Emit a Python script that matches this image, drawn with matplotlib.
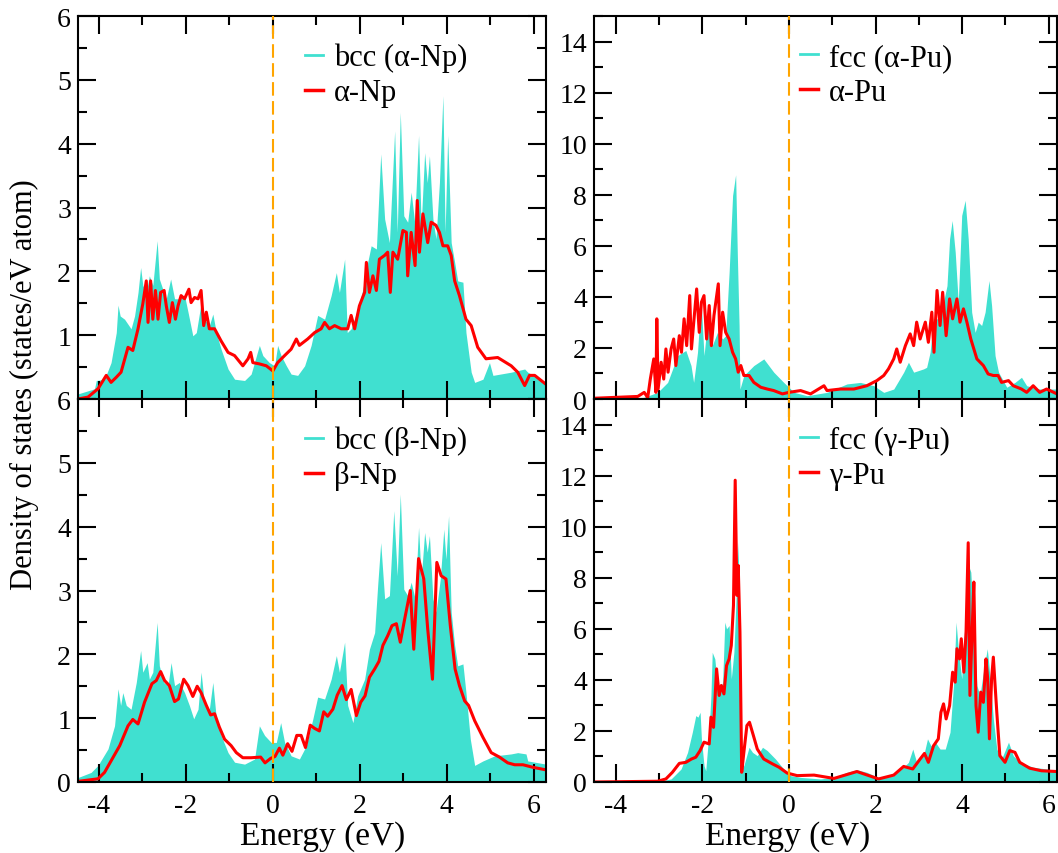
import numpy as np
import matplotlib
matplotlib.use("Agg")
import matplotlib.pyplot as plt
from matplotlib.lines import Line2D
from matplotlib.ticker import MultipleLocator

plt.rcParams['font.family'] = ['Liberation Serif', 'DejaVu Serif']
plt.rcParams['axes.unicode_minus'] = False

# ---- data: energy (eV) and DOS (states/eV atom) ----
# top left: bcc (alpha-Np) fill and alpha-Np line
e_bcc_a = [-4.48, -4.10, -4.06, -3.87, -3.72, -3.60, -3.56, -3.51, -3.41, -3.26, -3.18, -3.10,
           -3.04, -2.99, -2.91, -2.84, -2.76, -2.66, -2.61, -2.53, -2.45, -2.35, -2.26, -2.15,
           -2.03, -1.95, -1.84, -1.76, -1.66, -1.57, -1.46, -1.38, -1.30, -1.19, -1.03, -0.88,
           -0.65, -0.50, -0.31, -0.23, -0.08, 0.04, 0.11, 0.19, 0.31, 0.42, 0.57, 0.73, 0.88,
           1.03, 1.19, 1.34, 1.46, 1.53, 1.65, 1.71, 1.80, 1.95, 2.07, 2.18, 2.26, 2.38, 2.48,
           2.57, 2.68, 2.80, 2.86, 2.93, 3.01, 3.10, 3.18, 3.26, 3.35, 3.41, 3.49, 3.55, 3.60,
           3.68, 3.75, 3.83, 3.91, 3.96, 4.02, 4.10, 4.18, 4.25, 4.37, 4.44, 4.56, 4.64, 4.83,
           4.98, 5.06, 5.48, 5.79, 5.86, 6.28]
d_bcc_a = [0.08, 0.16, 0.29, 0.31, 0.57, 1.04, 1.47, 1.30, 1.25, 1.10, 1.30, 1.67,
           2.06, 1.78, 1.67, 1.93, 1.78, 2.48, 1.88, 1.72, 1.57, 1.88, 1.57, 1.57,
           1.62, 1.36, 0.99, 1.04, 1.46, 1.25, 1.15, 1.33, 1.04, 0.78, 0.47, 0.31,
           0.29, 0.39, 0.84, 0.68, 0.57, 0.52, 0.84, 0.68, 0.52, 0.39, 0.37, 0.52, 0.84,
           1.31, 1.25, 1.62, 1.98, 1.67, 2.19, 1.04, 1.10, 1.41, 1.72, 2.14, 2.40, 2.35, 3.84,
           2.82, 2.45, 4.20, 2.61, 4.49, 2.87, 2.77, 3.24, 2.77, 4.13, 2.72, 3.86, 3.39, 3.81,
           2.82, 2.51, 3.39, 4.75, 2.61, 4.13, 2.45, 2.14, 1.85, 1.83, 1.04, 0.42, 0.26, 0.31,
           0.57, 0.37, 0.42, 0.47, 0.42, 0.26]
e_np_a = [-4.48, -4.25, -4.02, -3.83, -3.72, -3.60, -3.49, -3.33, -3.22, -3.10, -2.99, -2.91,
          -2.87, -2.81, -2.76, -2.70, -2.64, -2.58, -2.50, -2.45, -2.38, -2.31, -2.24, -2.18,
          -2.11, -2.03, -1.93, -1.88, -1.80, -1.72, -1.65, -1.59, -1.53, -1.46, -1.34, -1.19,
          -1.03, -0.88, -0.69, -0.57, -0.51, -0.46, -0.31, -0.15, 0.00, 0.11, 0.27, 0.42, 0.54,
          0.61, 0.80, 0.96, 1.11, 1.19, 1.30, 1.42, 1.57, 1.72, 1.80, 1.88, 1.99, 2.11, 2.15,
          2.22, 2.30, 2.38, 2.45, 2.57, 2.64, 2.70, 2.76, 2.87, 2.99, 3.07, 3.10, 3.18, 3.27,
          3.32, 3.37, 3.45, 3.56, 3.64, 3.75, 3.83, 3.91, 4.02, 4.10, 4.18, 4.29, 4.44, 4.56,
          4.71, 4.90, 5.17, 5.48, 5.63, 5.79, 5.90, 6.02, 6.28]
d_np_a = [0.00, 0.03, 0.16, 0.37, 0.26, 0.34, 0.42, 0.81, 0.76, 1.10, 1.49, 1.85,
          1.20, 1.85, 1.25, 1.70, 1.25, 1.67, 1.70, 1.46, 1.20, 1.51, 1.25, 1.46,
          1.62, 1.57, 1.72, 1.51, 1.59, 1.57, 1.70, 1.15, 1.36, 1.10, 1.10, 0.91,
          0.73, 0.68, 0.52, 0.63, 0.73, 0.57, 0.55, 0.52, 0.44, 0.57, 0.68, 0.78, 0.94,
          0.84, 0.94, 1.04, 1.10, 1.20, 1.10, 1.15, 1.10, 1.10, 1.31, 1.10, 1.46, 1.67, 2.14,
          1.67, 1.93, 1.70, 2.19, 2.25, 2.30, 1.67, 2.30, 2.19, 2.64, 2.61, 1.93, 2.61, 2.09,
          3.11, 2.30, 2.90, 2.45, 2.77, 2.72, 2.61, 2.40, 2.40, 2.25, 1.85, 1.62, 1.25, 1.15,
          0.81, 0.63, 0.65, 0.52, 0.42, 0.21, 0.37, 0.37, 0.23]

# bottom left: bcc (beta-Np) fill and beta-Np line
e_bcc_b = [-4.48, -4.18, -4.02, -3.79, -3.64, -3.56, -3.50, -3.45, -3.37, -3.26, -3.14, -3.04,
           -2.99, -2.89, -2.84, -2.76, -2.66, -2.61, -2.51, -2.41, -2.34, -2.26, -2.15, -2.03,
           -1.92, -1.82, -1.72, -1.65, -1.57, -1.46, -1.38, -1.30, -1.19, -1.03, -0.88, -0.65,
           -0.42, -0.31, -0.19, -0.04, 0.08, 0.18, 0.27, 0.42, 0.61, 0.77, 0.92, 1.03, 1.19,
           1.34, 1.46, 1.53, 1.65, 1.72, 1.84, 1.95, 2.11, 2.22, 2.34, 2.41, 2.48, 2.57, 2.68,
           2.78, 2.86, 2.93, 3.01, 3.10, 3.18, 3.27, 3.35, 3.41, 3.49, 3.55, 3.60, 3.68, 3.75,
           3.85, 3.93, 3.98, 4.04, 4.10, 4.18, 4.25, 4.37, 4.44, 4.54, 4.64, 4.83, 5.10, 5.48,
           5.63, 5.82, 5.86, 6.28]
d_bcc_b = [0.07, 0.15, 0.26, 0.52, 0.88, 1.46, 1.20, 1.40, 1.20, 1.14, 1.56, 2.06,
           1.72, 1.87, 1.61, 1.72, 2.50, 1.82, 1.56, 1.51, 1.87, 1.51, 1.56, 1.40,
           1.20, 0.99, 1.14, 1.72, 1.20, 1.14, 1.56, 0.99, 0.73, 0.46, 0.31, 0.28,
           0.36, 0.88, 0.73, 0.62, 0.62, 0.93, 0.62, 0.41, 0.36, 0.57, 0.99, 1.33, 1.30,
           1.61, 1.98, 1.72, 2.19, 1.20, 0.93, 1.35, 1.61, 2.08, 2.34, 3.08, 3.75, 2.87, 2.92,
           4.25, 3.23, 4.51, 3.02, 2.92, 3.13, 2.87, 3.99, 3.18, 3.91, 3.60, 3.86, 2.87, 2.66,
           3.18, 3.96, 3.49, 4.17, 2.66, 2.14, 1.82, 1.85, 1.40, 0.67, 0.26, 0.33, 0.41, 0.44,
           0.46, 0.44, 0.33, 0.28]
e_np_b = [-4.48, -4.02, -3.87, -3.72, -3.52, -3.33, -3.22, -3.10, -2.95, -2.78, -2.68, -2.58,
          -2.49, -2.38, -2.26, -2.17, -2.05, -1.95, -1.84, -1.74, -1.65, -1.53, -1.43, -1.34,
          -1.23, -1.11, -0.96, -0.84, -0.69, -0.50, -0.28, -0.18, -0.05, 0.05, 0.15, 0.23,
          0.34, 0.44, 0.55, 0.65, 0.75, 0.86, 0.96, 1.07, 1.17, 1.26, 1.38, 1.48, 1.59, 1.69,
          1.80, 1.92, 2.02, 2.12, 2.22, 2.34, 2.44, 2.53, 2.64, 2.74, 2.84, 2.93, 3.03, 3.16,
          3.24, 3.35, 3.47, 3.56, 3.67, 3.77, 3.87, 3.98, 4.08, 4.19, 4.29, 4.41, 4.50, 4.64,
          4.83, 5.02, 5.21, 5.40, 5.56, 5.75, 5.98, 6.28]
d_np_b = [0.01, 0.05, 0.15, 0.33, 0.57, 0.88, 0.98, 0.91, 1.25, 1.54, 1.59, 1.73,
          1.59, 1.51, 1.26, 1.30, 1.61, 1.51, 1.34, 1.50, 1.40, 1.20, 1.05, 1.07,
          0.86, 0.67, 0.57, 0.46, 0.38, 0.38, 0.39, 0.30, 0.37, 0.40, 0.53, 0.42,
          0.60, 0.48, 0.73, 0.73, 0.54, 0.89, 0.84, 0.80, 1.10, 1.03, 1.14, 1.36, 1.51, 1.29,
          1.45, 1.04, 1.25, 1.35, 1.64, 1.77, 1.89, 2.14, 2.29, 2.45, 2.48, 2.19, 2.55, 3.00,
          2.08, 3.50, 3.18, 2.40, 1.61, 3.44, 3.23, 3.18, 2.45, 1.77, 1.51, 1.27, 1.20, 0.96,
          0.70, 0.46, 0.39, 0.30, 0.27, 0.27, 0.23, 0.19]

# top right: fcc (alpha-Pu) fill and alpha-Pu line
e_fcc_a = [-4.49, -3.49, -3.34, -3.03, -2.80, -2.57, -2.38, -2.26, -2.20, -2.11, -2.03, -1.96,
           -1.84, -1.77, -1.65, -1.53, -1.46, -1.38, -1.30, -1.23, -1.19, -1.15, -1.13, -1.04,
           -0.81, -0.58, -0.35, -0.12, 0.12, 0.42, 0.88, 1.34, 1.65, 1.96, 2.19, 2.42, 2.65,
           2.76, 2.88, 3.11, 3.18, 3.26, 3.34, 3.45, 3.57, 3.65, 3.71, 3.77, 3.84, 3.91, 3.99,
           4.07, 4.14, 4.22, 4.30, 4.37, 4.45, 4.53, 4.62, 4.68, 4.76, 4.84, 5.03, 5.22, 5.37,
           5.49, 5.79, 6.19]
d_fcc_a = [0.02, 0.02, 0.07, 0.26, 0.65, 1.70, 1.90, 1.31, 0.65, 1.83, 3.92, 1.70,
           3.66, 2.09, 2.61, 2.35, 2.48, 4.97, 7.97, 8.78, 5.62, 2.88, 0.39, 0.92,
           1.31, 1.57, 1.05, 0.65, 0.26, 0.13, 0.26, 0.59, 0.65, 0.52, 0.26, 0.39, 1.05,
           1.44, 1.05, 1.18, 1.24, 1.83, 3.14, 3.14, 3.79, 4.44, 6.27, 6.99, 5.75, 3.79, 7.19,
           7.78, 6.27, 3.40, 2.61, 3.01, 2.88, 3.40, 4.64, 3.66, 1.70, 1.05, 0.46, 0.65, 0.85,
           0.52, 0.39, 0.39]
e_pu_a = [-4.49, -3.49, -3.34, -3.26, -3.20, -3.12, -3.07, -3.05, -3.02, -2.95, -2.89, -2.84,
          -2.79, -2.72, -2.66, -2.61, -2.53, -2.48, -2.42, -2.36, -2.29, -2.25, -2.19, -2.13,
          -2.07, -2.02, -1.96, -1.90, -1.84, -1.79, -1.73, -1.63, -1.59, -1.53, -1.46, -1.38,
          -1.30, -1.23, -1.17, -1.11, -1.04, -0.92, -0.81, -0.65, -0.50, -0.35, -0.15, 0.00,
          0.27, 0.50, 0.81, 0.88, 1.19, 1.50, 1.80, 2.03, 2.19, 2.30, 2.42, 2.49, 2.57, 2.69,
          2.80, 2.88, 2.95, 3.03, 3.15, 3.22, 3.30, 3.35, 3.42, 3.49, 3.55, 3.63, 3.71, 3.78,
          3.88, 3.95, 4.03, 4.11, 4.20, 4.34, 4.49, 4.60, 4.72, 4.83, 4.91, 5.07, 5.18, 5.37,
          5.49, 5.64, 5.79, 5.95, 6.19]
d_pu_a = [0.03, 0.10, 0.26, 0.05, 0.78, 1.57, 0.26, 3.14, 0.39, 1.44, 0.78, 1.96,
          1.05, 1.96, 2.35, 1.31, 2.48, 1.83, 3.14, 2.09, 4.05, 1.96, 3.14, 4.31,
          2.61, 3.79, 4.05, 2.35, 3.66, 2.09, 3.27, 4.51, 2.09, 3.40, 2.61, 2.35,
          1.83, 1.57, 1.05, 1.31, 0.92, 0.92, 0.65, 0.46, 0.39, 0.33, 0.20, 0.26,
          0.33, 0.20, 0.52, 0.33, 0.39, 0.39, 0.52, 0.72, 0.92, 1.18, 1.57, 1.96, 1.44, 2.09,
          2.55, 2.09, 3.01, 2.35, 3.01, 2.22, 3.40, 1.83, 4.25, 2.88, 4.18, 2.48, 3.92, 3.14,
          3.92, 3.01, 3.53, 3.01, 2.35, 1.57, 1.31, 0.98, 0.92, 0.92, 0.65, 0.72, 0.52, 0.39,
          0.26, 0.52, 0.26, 0.39, 0.20]

# bottom right: fcc (gamma-Pu) fill and gamma-Pu line
e_fcc_g = [-4.49, -3.03, -2.72, -2.49, -2.34, -2.23, -2.15, -2.10, -2.05, -2.02, -1.96, -1.92,
           -1.84, -1.80, -1.77, -1.71, -1.65, -1.59, -1.53, -1.48, -1.44, -1.38, -1.33, -1.27,
           -1.22, -1.17, -1.13, -1.09, -1.04, -0.92, -0.84, -0.73, -0.61, -0.50, -0.31, -0.12,
           0.04, 0.27, 0.73, 1.04, 1.34, 1.57, 1.80, 2.11, 2.42, 2.65, 2.76, 2.86, 2.95, 3.11,
           3.20, 3.28, 3.38, 3.49, 3.61, 3.72, 3.80, 3.86, 3.91, 3.99, 4.07, 4.12, 4.20, 4.26,
           4.34, 4.41, 4.49, 4.58, 4.64, 4.72, 4.80, 4.91, 5.07, 5.18, 5.33, 5.64, 5.95, 6.19]
d_fcc_g = [0.03, 0.03, 0.12, 0.51, 1.16, 1.95, 2.60, 2.54, 2.73, 1.69, 0.64, 0.44,
           2.08, 3.39, 5.08, 4.82, 3.78, 3.52, 3.91, 6.26, 6.00, 6.13, 4.04, 5.08,
           7.18, 9.40, 3.78, 0.51, 0.64, 1.36, 1.16, 1.03, 1.36, 1.23, 0.90, 0.51,
           0.25, 0.18, 0.12, 0.18, 0.38, 0.48, 0.38, 0.14, 0.25, 0.58, 0.77, 1.29, 0.77, 1.03,
           1.69, 1.42, 1.56, 1.29, 1.29, 1.95, 3.78, 6.26, 5.22, 4.04, 6.39, 8.61, 8.22, 6.39,
           3.78, 3.39, 4.30, 5.22, 4.17, 2.47, 1.29, 0.90, 1.56, 1.03, 0.77, 0.58, 0.51, 0.44]
e_pu_g = [-4.49, -3.03, -2.84, -2.69, -2.53, -2.38, -2.25, -2.15, -2.05, -1.96, -1.84, -1.80,
          -1.74, -1.67, -1.61, -1.56, -1.50, -1.44, -1.38, -1.33, -1.28, -1.24, -1.20, -1.17,
          -1.13, -1.09, -1.04, -0.97, -0.91, -0.82, -0.73, -0.58, -0.38, -0.23, -0.04, 0.19,
          0.58, 1.04, 1.57, 2.07, 2.42, 2.65, 2.86, 3.03, 3.13, 3.22, 3.34, 3.45, 3.51, 3.57,
          3.63, 3.71, 3.78, 3.84, 3.88, 3.94, 3.98, 4.04, 4.09, 4.14, 4.18, 4.24, 4.27, 4.32,
          4.37, 4.43, 4.49, 4.55, 4.59, 4.63, 4.68, 4.72, 4.80, 4.87, 4.99, 5.10, 5.22, 5.33,
          5.56, 5.83, 6.19]
d_pu_g = [0.00, 0.03, 0.12, 0.38, 0.73, 0.77, 0.90, 0.97, 1.23, 1.56, 1.49, 2.54,
          2.14, 4.43, 3.39, 3.78, 3.45, 4.56, 4.82, 5.35, 6.92, 11.82, 7.31, 8.48,
          5.87, 0.38, 1.16, 2.21, 2.34, 1.82, 1.29, 0.90, 0.71, 0.58, 0.35, 0.25,
          0.27, 0.14, 0.41, 0.12, 0.27, 0.61, 0.51, 0.90, 1.12, 0.77, 1.42, 1.69, 2.73, 3.06,
          2.47, 2.99, 4.30, 3.91, 5.22, 4.82, 5.61, 4.30, 5.87, 9.37, 3.39, 6.39, 7.83, 2.99,
          1.95, 3.52, 3.12, 4.82, 4.04, 1.69, 4.04, 4.89, 2.73, 1.03, 0.77, 1.23, 1.16, 0.77,
          0.54, 0.44, 0.41]

# (fill E, fill D, line E, line D, fill label, line label), in panel order
panels = [
    (e_bcc_a, d_bcc_a, e_np_a, d_np_a, 'bcc (α-Np)', 'α-Np'),
    (e_fcc_a, d_fcc_a, e_pu_a, d_pu_a, 'fcc (α-Pu)', 'α-Pu'),
    (e_bcc_b, d_bcc_b, e_np_b, d_np_b, 'bcc (β-Np)', 'β-Np'),
    (e_fcc_g, d_fcc_g, e_pu_g, d_pu_g, 'fcc (γ-Pu)', 'γ-Pu'),
]

W, H = 1058, 854
fig = plt.figure(figsize=(W / 100, H / 100), dpi=100)

# axes boxes in pixels: left, top, right, bottom
boxes = [(78, 17, 546, 400), (594, 17, 1057, 400),
         (78, 400, 546, 783), (594, 400, 1057, 783)]
xlims = [(-4.48, 6.28), (-4.5, 6.19), (-4.48, 6.28), (-4.5, 6.19)]
leg_x = [0.485, 0.445, 0.485, 0.445]

turq = '#40E0D0'
for k, (ef, df, el, dl, lab_f, lab_l) in enumerate(panels):
    l, t, r, b = boxes[k]
    ax = fig.add_axes([l / W, 1 - b / H, (r - l) / W, (b - t) / H])
    ax.fill_between(ef, df, 0, color=turq, lw=0, zorder=1)
    ax.plot(el, dl, color='red', lw=2.2, zorder=2)
    ax.axvline(0, color='orange', lw=1.5, dashes=(6.5, 2.6), zorder=3)
    ax.set_xlim(*xlims[k])
    ax.xaxis.set_major_locator(MultipleLocator(2))
    ax.xaxis.set_minor_locator(MultipleLocator(1))
    if k % 2 == 0:
        ax.set_ylim(0, 6)
        ax.yaxis.set_major_locator(MultipleLocator(1))
        ax.yaxis.set_minor_locator(MultipleLocator(0.5))
    else:
        ax.set_ylim(0, 15)
        ax.set_yticks(np.arange(0, 15, 2))
        ax.yaxis.set_minor_locator(MultipleLocator(1))
    ax.tick_params(which='both', direction='in', top=True, right=True, width=1.5,
                   labelsize=20)
    ax.tick_params(which='major', length=13)
    ax.tick_params(which='minor', length=6.5)
    ax.tick_params(axis='x', pad=8)
    ax.tick_params(axis='y', pad=5)
    for s in ax.spines.values():
        s.set_linewidth(1.5)
    if k < 2:
        ax.tick_params(labelbottom=False)
    else:
        ax.set_xlabel('Energy (eV)', fontsize=24)
        ax.xaxis.set_label_coords(0.523 if k == 2 else 0.419, -0.10)
    if k == 0:
        ax.set_yticks(range(7))
        ax.set_yticklabels([''] + [str(v) for v in range(1, 7)])
    handles = [Line2D([], [], color=turq, lw=2), Line2D([], [], color='red', lw=2.5)]
    ax.legend(handles, [lab_f, lab_l], loc='upper left', bbox_to_anchor=(leg_x[k], 0.93),
              frameon=False, fontsize=22, handlelength=0.6, handletextpad=0.35,
              labelspacing=0.2, borderpad=0, borderaxespad=0)

fig.text(24 / W, 1 - 385 / H, 'Density of states (states/eV atom)', rotation=90,
         ha='center', va='center', fontsize=22)

fig.savefig('out.png', dpi=100)
